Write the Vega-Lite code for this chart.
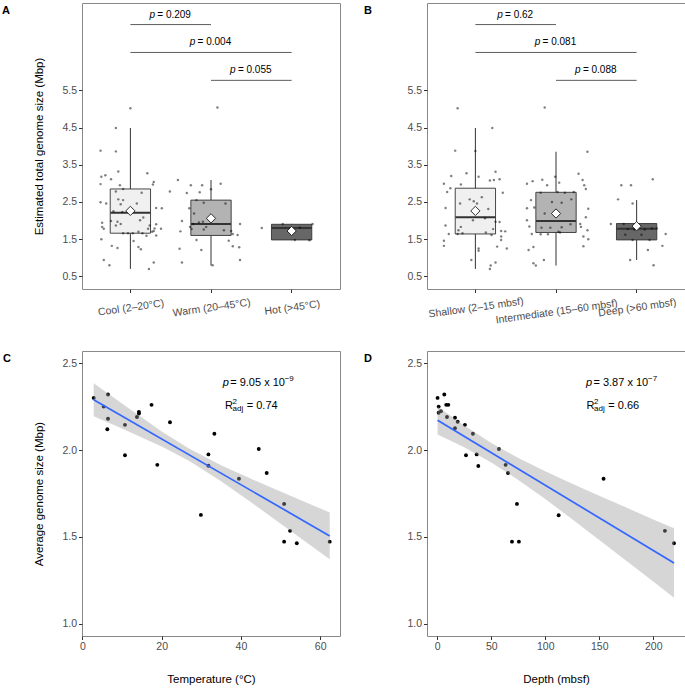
{
"$schema": "https://vega.github.io/schema/vega-lite/v6.json",
"background": "white",
"padding": {"left": 1, "top": 2, "right": 0, "bottom": 0},
"columns": 2,
"spacing": {"row": 62, "column": 87},
"bounds": "flush",
"datasets": {
"boxA": [
{"g":"Cool (2–20°C)","lo":0.70,"q1":1.66,"med":2.21,"q3":2.85,"hi":4.49,"mean":2.26},
{"g":"Warm (20–45°C)","lo":0.79,"q1":1.60,"med":1.91,"q3":2.55,"hi":3.09,"mean":2.06},
{"g":"Hot (>45°C)","lo":1.47,"q1":1.48,"med":1.80,"q3":1.90,"hi":1.91,"mean":1.72}],
"brA": [
{"from":"Cool (2–20°C)","to":"Warm (20–45°C)","y":7.27,"lab":"= 0.209","span":1},
{"from":"Cool (2–20°C)","to":"Hot (>45°C)","y":6.52,"lab":"= 0.004","span":2},
{"from":"Warm (20–45°C)","to":"Hot (>45°C)","y":5.77,"lab":"= 0.055","span":1}],
"jitA": [
{"g":"Cool (2–20°C)","j":0.00,"v":5.02},{"g":"Cool (2–20°C)","j":-0.18,"v":4.49},{"g":"Cool (2–20°C)","j":-0.37,"v":3.88},{"g":"Cool (2–20°C)","j":-0.18,"v":3.86},{"g":"Cool (2–20°C)","j":-0.15,"v":3.32},{"g":"Cool (2–20°C)","j":-0.36,"v":3.18},{"g":"Cool (2–20°C)","j":-0.31,"v":3.22},{"g":"Cool (2–20°C)","j":-0.24,"v":3.11},{"g":"Cool (2–20°C)","j":-0.37,"v":2.98},{"g":"Cool (2–20°C)","j":-0.13,"v":2.95},{"g":"Cool (2–20°C)","j":0.21,"v":3.27},{"g":"Cool (2–20°C)","j":0.29,"v":3.04},{"g":"Cool (2–20°C)","j":0.28,"v":2.97},{"g":"Cool (2–20°C)","j":-0.09,"v":2.85},{"g":"Cool (2–20°C)","j":-0.18,"v":2.78},{"g":"Cool (2–20°C)","j":-0.37,"v":2.49},{"g":"Cool (2–20°C)","j":-0.30,"v":2.46},{"g":"Cool (2–20°C)","j":-0.15,"v":2.57},{"g":"Cool (2–20°C)","j":-0.12,"v":2.44},{"g":"Cool (2–20°C)","j":0.39,"v":2.33},{"g":"Cool (2–20°C)","j":0.32,"v":2.34},{"g":"Cool (2–20°C)","j":-0.21,"v":2.25},{"g":"Cool (2–20°C)","j":-0.10,"v":2.23},{"g":"Cool (2–20°C)","j":-0.35,"v":1.94},{"g":"Cool (2–20°C)","j":-0.24,"v":1.99},{"g":"Cool (2–20°C)","j":-0.35,"v":1.83},{"g":"Cool (2–20°C)","j":-0.33,"v":1.78},{"g":"Cool (2–20°C)","j":0.32,"v":1.90},{"g":"Cool (2–20°C)","j":0.30,"v":1.79},{"g":"Cool (2–20°C)","j":0.38,"v":1.78},{"g":"Cool (2–20°C)","j":0.24,"v":1.87},{"g":"Cool (2–20°C)","j":-0.09,"v":1.66},{"g":"Cool (2–20°C)","j":0.15,"v":1.66},{"g":"Cool (2–20°C)","j":0.20,"v":1.59},{"g":"Cool (2–20°C)","j":0.32,"v":1.60},{"g":"Cool (2–20°C)","j":-0.36,"v":1.50},{"g":"Cool (2–20°C)","j":0.04,"v":1.45},{"g":"Cool (2–20°C)","j":-0.23,"v":1.32},{"g":"Cool (2–20°C)","j":-0.16,"v":1.26},{"g":"Cool (2–20°C)","j":0.10,"v":1.29},{"g":"Cool (2–20°C)","j":0.13,"v":1.23},{"g":"Cool (2–20°C)","j":-0.33,"v":0.94},{"g":"Cool (2–20°C)","j":-0.26,"v":0.80},{"g":"Cool (2–20°C)","j":0.29,"v":0.87},{"g":"Cool (2–20°C)","j":0.23,"v":0.70},{"g":"Cool (2–20°C)","j":-0.09,"v":2.55},{"g":"Cool (2–20°C)","j":0.14,"v":2.75},{"g":"Cool (2–20°C)","j":0.08,"v":2.46},{"g":"Cool (2–20°C)","j":0.16,"v":2.08},{"g":"Cool (2–20°C)","j":0.12,"v":2.01},{"g":"Cool (2–20°C)","j":-0.16,"v":1.97},{"g":"Cool (2–20°C)","j":-0.18,"v":1.87},{"g":"Cool (2–20°C)","j":-0.12,"v":1.91},{"g":"Cool (2–20°C)","j":-0.03,"v":1.66},{"g":"Cool (2–20°C)","j":0.03,"v":1.66},{"g":"Cool (2–20°C)","j":0.10,"v":1.70},{"g":"Cool (2–20°C)","j":0.22,"v":1.78},{"g":"Cool (2–20°C)","j":0.29,"v":1.72},{"g":"Cool (2–20°C)","j":0.27,"v":1.70},
{"g":"Warm (20–45°C)","j":0.08,"v":5.04},{"g":"Warm (20–45°C)","j":-0.41,"v":3.09},{"g":"Warm (20–45°C)","j":-0.25,"v":2.95},{"g":"Warm (20–45°C)","j":-0.11,"v":2.95},{"g":"Warm (20–45°C)","j":0.12,"v":2.99},{"g":"Warm (20–45°C)","j":-0.51,"v":2.78},{"g":"Warm (20–45°C)","j":-0.30,"v":2.74},{"g":"Warm (20–45°C)","j":-0.14,"v":2.76},{"g":"Warm (20–45°C)","j":0.00,"v":2.84},{"g":"Warm (20–45°C)","j":-0.18,"v":2.55},{"g":"Warm (20–45°C)","j":-0.09,"v":2.48},{"g":"Warm (20–45°C)","j":-0.27,"v":2.33},{"g":"Warm (20–45°C)","j":-0.21,"v":2.19},{"g":"Warm (20–45°C)","j":-0.36,"v":1.99},{"g":"Warm (20–45°C)","j":-0.22,"v":1.91},{"g":"Warm (20–45°C)","j":-0.38,"v":1.71},{"g":"Warm (20–45°C)","j":-0.24,"v":1.77},{"g":"Warm (20–45°C)","j":-0.09,"v":1.76},{"g":"Warm (20–45°C)","j":-0.06,"v":1.83},{"g":"Warm (20–45°C)","j":-0.15,"v":1.95},{"g":"Warm (20–45°C)","j":0.36,"v":1.91},{"g":"Warm (20–45°C)","j":0.27,"v":1.64},{"g":"Warm (20–45°C)","j":0.33,"v":1.61},{"g":"Warm (20–45°C)","j":-0.18,"v":1.48},{"g":"Warm (20–45°C)","j":0.22,"v":1.46},{"g":"Warm (20–45°C)","j":0.27,"v":1.31},{"g":"Warm (20–45°C)","j":0.35,"v":1.28},{"g":"Warm (20–45°C)","j":-0.39,"v":1.24},{"g":"Warm (20–45°C)","j":-0.12,"v":1.21},{"g":"Warm (20–45°C)","j":-0.36,"v":0.87},{"g":"Warm (20–45°C)","j":0.02,"v":0.80},{"g":"Warm (20–45°C)","j":0.36,"v":0.94},{"g":"Warm (20–45°C)","j":0.18,"v":2.46},{"g":"Warm (20–45°C)","j":-0.10,"v":1.97},{"g":"Warm (20–45°C)","j":0.16,"v":1.74},{"g":"Warm (20–45°C)","j":0.25,"v":1.72},{"g":"Warm (20–45°C)","j":-0.26,"v":1.83},
{"g":"Hot (>45°C)","j":-0.37,"v":1.80},{"g":"Hot (>45°C)","j":-0.11,"v":1.91},{"g":"Hot (>45°C)","j":0.26,"v":1.91},{"g":"Hot (>45°C)","j":0.22,"v":1.47},{"g":"Hot (>45°C)","j":0.04,"v":1.48},{"g":"Hot (>45°C)","j":0.10,"v":1.81}],
"boxB": [
{"g":"Shallow (2–15 mbsf)","lo":0.70,"q1":1.64,"med":2.09,"q3":2.87,"hi":4.49,"mean":2.26},
{"g":"Intermediate (15–60 mbsf)","lo":0.79,"q1":1.68,"med":1.99,"q3":2.76,"hi":3.85,"mean":2.19},
{"g":"Deep (>60 mbsf)","lo":0.94,"q1":1.48,"med":1.78,"q3":1.92,"hi":2.55,"mean":1.85}],
"brB": [
{"from":"Shallow (2–15 mbsf)","to":"Intermediate (15–60 mbsf)","y":7.27,"lab":"= 0.62","span":1},
{"from":"Shallow (2–15 mbsf)","to":"Deep (>60 mbsf)","y":6.52,"lab":"= 0.081","span":2},
{"from":"Intermediate (15–60 mbsf)","to":"Deep (>60 mbsf)","y":5.77,"lab":"= 0.088","span":1}],
"jitB": [
{"g":"Shallow (2–15 mbsf)","j":-0.22,"v":5.02},{"g":"Shallow (2–15 mbsf)","j":0.21,"v":4.49},{"g":"Shallow (2–15 mbsf)","j":-0.25,"v":3.88},{"g":"Shallow (2–15 mbsf)","j":0.00,"v":3.87},{"g":"Shallow (2–15 mbsf)","j":-0.30,"v":3.20},{"g":"Shallow (2–15 mbsf)","j":-0.11,"v":3.27},{"g":"Shallow (2–15 mbsf)","j":0.04,"v":3.18},{"g":"Shallow (2–15 mbsf)","j":0.25,"v":3.31},{"g":"Shallow (2–15 mbsf)","j":0.18,"v":3.08},{"g":"Shallow (2–15 mbsf)","j":0.23,"v":3.09},{"g":"Shallow (2–15 mbsf)","j":0.30,"v":3.11},{"g":"Shallow (2–15 mbsf)","j":-0.39,"v":2.99},{"g":"Shallow (2–15 mbsf)","j":-0.31,"v":2.87},{"g":"Shallow (2–15 mbsf)","j":-0.35,"v":2.77},{"g":"Shallow (2–15 mbsf)","j":-0.18,"v":2.97},{"g":"Shallow (2–15 mbsf)","j":0.34,"v":2.75},{"g":"Shallow (2–15 mbsf)","j":-0.37,"v":2.34},{"g":"Shallow (2–15 mbsf)","j":-0.07,"v":2.57},{"g":"Shallow (2–15 mbsf)","j":-0.02,"v":2.52},{"g":"Shallow (2–15 mbsf)","j":-0.19,"v":2.46},{"g":"Shallow (2–15 mbsf)","j":0.02,"v":2.46},{"g":"Shallow (2–15 mbsf)","j":0.16,"v":2.31},{"g":"Shallow (2–15 mbsf)","j":-0.03,"v":2.01},{"g":"Shallow (2–15 mbsf)","j":0.12,"v":2.06},{"g":"Shallow (2–15 mbsf)","j":-0.37,"v":1.87},{"g":"Shallow (2–15 mbsf)","j":-0.33,"v":1.64},{"g":"Shallow (2–15 mbsf)","j":-0.22,"v":1.64},{"g":"Shallow (2–15 mbsf)","j":-0.16,"v":1.66},{"g":"Shallow (2–15 mbsf)","j":0.13,"v":1.68},{"g":"Shallow (2–15 mbsf)","j":0.25,"v":1.97},{"g":"Shallow (2–15 mbsf)","j":0.22,"v":1.77},{"g":"Shallow (2–15 mbsf)","j":0.30,"v":1.96},{"g":"Shallow (2–15 mbsf)","j":0.32,"v":1.72},{"g":"Shallow (2–15 mbsf)","j":0.37,"v":1.71},{"g":"Shallow (2–15 mbsf)","j":0.20,"v":1.61},{"g":"Shallow (2–15 mbsf)","j":0.32,"v":1.57},{"g":"Shallow (2–15 mbsf)","j":0.32,"v":1.48},{"g":"Shallow (2–15 mbsf)","j":-0.39,"v":1.46},{"g":"Shallow (2–15 mbsf)","j":-0.39,"v":1.32},{"g":"Shallow (2–15 mbsf)","j":0.04,"v":1.25},{"g":"Shallow (2–15 mbsf)","j":0.04,"v":1.19},{"g":"Shallow (2–15 mbsf)","j":0.27,"v":1.30},{"g":"Shallow (2–15 mbsf)","j":0.39,"v":1.25},{"g":"Shallow (2–15 mbsf)","j":-0.05,"v":0.94},{"g":"Shallow (2–15 mbsf)","j":0.25,"v":0.87},{"g":"Shallow (2–15 mbsf)","j":0.19,"v":0.79},{"g":"Shallow (2–15 mbsf)","j":0.18,"v":0.70},{"g":"Shallow (2–15 mbsf)","j":-0.18,"v":1.83},{"g":"Shallow (2–15 mbsf)","j":-0.21,"v":1.74},{"g":"Shallow (2–15 mbsf)","j":0.00,"v":2.33},{"g":"Shallow (2–15 mbsf)","j":0.08,"v":2.63},
{"g":"Intermediate (15–60 mbsf)","j":-0.14,"v":5.04},{"g":"Intermediate (15–60 mbsf)","j":0.39,"v":3.85},{"g":"Intermediate (15–60 mbsf)","j":0.28,"v":3.26},{"g":"Intermediate (15–60 mbsf)","j":-0.01,"v":3.18},{"g":"Intermediate (15–60 mbsf)","j":-0.36,"v":2.99},{"g":"Intermediate (15–60 mbsf)","j":-0.29,"v":3.06},{"g":"Intermediate (15–60 mbsf)","j":-0.17,"v":3.10},{"g":"Intermediate (15–60 mbsf)","j":-0.11,"v":2.95},{"g":"Intermediate (15–60 mbsf)","j":0.04,"v":3.02},{"g":"Intermediate (15–60 mbsf)","j":0.35,"v":2.95},{"g":"Intermediate (15–60 mbsf)","j":0.37,"v":2.85},{"g":"Intermediate (15–60 mbsf)","j":0.33,"v":3.09},{"g":"Intermediate (15–60 mbsf)","j":-0.19,"v":2.75},{"g":"Intermediate (15–60 mbsf)","j":0.02,"v":2.77},{"g":"Intermediate (15–60 mbsf)","j":0.22,"v":2.77},{"g":"Intermediate (15–60 mbsf)","j":0.11,"v":2.75},{"g":"Intermediate (15–60 mbsf)","j":-0.31,"v":2.55},{"g":"Intermediate (15–60 mbsf)","j":0.19,"v":2.57},{"g":"Intermediate (15–60 mbsf)","j":-0.36,"v":2.33},{"g":"Intermediate (15–60 mbsf)","j":0.40,"v":2.32},{"g":"Intermediate (15–60 mbsf)","j":-0.27,"v":2.35},{"g":"Intermediate (15–60 mbsf)","j":-0.05,"v":2.50},{"g":"Intermediate (15–60 mbsf)","j":0.07,"v":2.48},{"g":"Intermediate (15–60 mbsf)","j":-0.14,"v":2.19},{"g":"Intermediate (15–60 mbsf)","j":0.37,"v":2.09},{"g":"Intermediate (15–60 mbsf)","j":-0.36,"v":2.01},{"g":"Intermediate (15–60 mbsf)","j":-0.33,"v":1.84},{"g":"Intermediate (15–60 mbsf)","j":-0.18,"v":1.81},{"g":"Intermediate (15–60 mbsf)","j":-0.07,"v":1.81},{"g":"Intermediate (15–60 mbsf)","j":0.07,"v":1.82},{"g":"Intermediate (15–60 mbsf)","j":0.18,"v":1.90},{"g":"Intermediate (15–60 mbsf)","j":0.30,"v":1.91},{"g":"Intermediate (15–60 mbsf)","j":0.31,"v":1.83},{"g":"Intermediate (15–60 mbsf)","j":-0.30,"v":1.64},{"g":"Intermediate (15–60 mbsf)","j":-0.19,"v":1.63},{"g":"Intermediate (15–60 mbsf)","j":-0.10,"v":1.63},{"g":"Intermediate (15–60 mbsf)","j":0.05,"v":1.68},{"g":"Intermediate (15–60 mbsf)","j":0.39,"v":1.74},{"g":"Intermediate (15–60 mbsf)","j":0.34,"v":1.57},{"g":"Intermediate (15–60 mbsf)","j":0.40,"v":1.50},{"g":"Intermediate (15–60 mbsf)","j":0.34,"v":1.31},{"g":"Intermediate (15–60 mbsf)","j":-0.34,"v":1.21},{"g":"Intermediate (15–60 mbsf)","j":-0.28,"v":1.29},{"g":"Intermediate (15–60 mbsf)","j":-0.15,"v":0.94},{"g":"Intermediate (15–60 mbsf)","j":-0.28,"v":0.85},{"g":"Intermediate (15–60 mbsf)","j":-0.25,"v":0.79},{"g":"Intermediate (15–60 mbsf)","j":0.03,"v":1.70},
{"g":"Deep (>60 mbsf)","j":-0.19,"v":2.95},{"g":"Deep (>60 mbsf)","j":-0.07,"v":2.95},{"g":"Deep (>60 mbsf)","j":0.20,"v":3.11},{"g":"Deep (>60 mbsf)","j":-0.23,"v":2.57},{"g":"Deep (>60 mbsf)","j":-0.05,"v":2.46},{"g":"Deep (>60 mbsf)","j":-0.32,"v":1.91},{"g":"Deep (>60 mbsf)","j":-0.16,"v":1.91},{"g":"Deep (>60 mbsf)","j":-0.11,"v":1.77},{"g":"Deep (>60 mbsf)","j":-0.03,"v":1.76},{"g":"Deep (>60 mbsf)","j":0.10,"v":1.76},{"g":"Deep (>60 mbsf)","j":0.19,"v":1.79},{"g":"Deep (>60 mbsf)","j":0.25,"v":1.79},{"g":"Deep (>60 mbsf)","j":-0.14,"v":1.62},{"g":"Deep (>60 mbsf)","j":0.06,"v":1.62},{"g":"Deep (>60 mbsf)","j":0.36,"v":1.64},{"g":"Deep (>60 mbsf)","j":-0.05,"v":1.48},{"g":"Deep (>60 mbsf)","j":0.16,"v":1.48},{"g":"Deep (>60 mbsf)","j":0.32,"v":1.32},{"g":"Deep (>60 mbsf)","j":0.14,"v":1.21},{"g":"Deep (>60 mbsf)","j":-0.08,"v":0.94},{"g":"Deep (>60 mbsf)","j":0.21,"v":0.80}],
"ptsC": [
{"t":2.85,"s":2.30},{"t":5.37,"s":2.25},{"t":6.46,"s":2.32},{"t":6.46,"s":2.18},{"t":6.29,"s":2.12},{"t":10.74,"s":2.145},{"t":10.74,"s":1.97},{"t":13.76,"s":2.19},{"t":14.26,"s":2.22},{"t":14.26,"s":2.21},{"t":17.45,"s":2.26},{"t":18.9,"s":1.915},{"t":22.1,"s":2.16},{"t":29.9,"s":1.627},{"t":31.8,"s":1.975},{"t":31.8,"s":1.91},{"t":33.3,"s":2.094},{"t":39.5,"s":1.835},{"t":44.5,"s":2.006},{"t":46.5,"s":1.868},{"t":50.9,"s":1.69},{"t":50.9,"s":1.473},{"t":52.4,"s":1.535},{"t":54.1,"s":1.464},{"t":62.4,"s":1.473}],
"lineC": [{"t":2.85,"s":2.29},{"t":62.4,"s":1.506}],
"bandC": [
{"t":2.85,"lo":2.195,"hi":2.385},{"t":10,"lo":2.124,"hi":2.268},{"t":20,"lo":2.02,"hi":2.107},{"t":27,"lo":1.937,"hi":2.007},{"t":35,"lo":1.821,"hi":1.913},{"t":45,"lo":1.66,"hi":1.81},{"t":55,"lo":1.494,"hi":1.712},{"t":62.4,"lo":1.371,"hi":1.641}],
"ptsD": [
{"d":0.3,"s":2.30},{"d":1.3,"s":2.25},{"d":1.3,"s":2.215},{"d":3.4,"s":2.224},{"d":6.5,"s":2.32},{"d":8.3,"s":2.26},{"d":10.2,"s":2.26},{"d":9,"s":2.19},{"d":16.4,"s":2.186},{"d":18.9,"s":2.163},{"d":16.4,"s":2.126},{"d":25.6,"s":2.145},{"d":33,"s":2.094},{"d":26.6,"s":1.97},{"d":36.5,"s":1.975},{"d":38,"s":1.908},{"d":57.1,"s":2.006},{"d":63.3,"s":1.915},{"d":65.5,"s":1.868},{"d":73.8,"s":1.69},{"d":69.2,"s":1.473},{"d":75.6,"s":1.473},{"d":112.4,"s":1.625},{"d":154,"s":1.835},{"d":210.8,"s":1.535},{"d":219.2,"s":1.464}],
"lineD": [{"d":0.3,"s":2.172},{"d":219.2,"s":1.35}],
"bandD": [
{"d":0.3,"lo":2.09,"hi":2.25},{"d":25,"lo":2.016,"hi":2.142},{"d":50,"lo":1.929,"hi":2.041},{"d":75,"lo":1.828,"hi":1.954},{"d":100,"lo":1.718,"hi":1.878},{"d":125,"lo":1.602,"hi":1.806},{"d":150,"lo":1.483,"hi":1.737},{"d":175,"lo":1.363,"hi":1.669},{"d":200,"lo":1.243,"hi":1.601},{"d":219.2,"lo":1.15,"hi":1.55}]
},
"concat": [
{
"width": 258, "height": 286,
"title": {"text": "A", "dx": -80},
"resolve": {"scale": {"xOffset": "independent"}},
"layer": [
{"data": {"name": "boxA"}, "mark": {"type": "rule", "color": "#333333", "strokeWidth": 1},
 "encoding": {
  "x": {"field": "g", "type": "nominal", "scale": {"type": "band", "domain": ["Cool (2–20°C)","Warm (20–45°C)","Hot (>45°C)"], "paddingInner": 0.5, "paddingOuter": 0.35},
        "axis": {"title": null, "labelAngle": -8, "labelAlign": "center", "labelBaseline": "top", "labelPadding": 10, "labelOverlap": false, "labelLimit": 300}},
  "y": {"field": "lo", "type": "quantitative", "scale": {"domain": [0.16, 7.85], "nice": false, "zero": false},
        "axis": {"values": [0.5,1.5,2.5,3.5,4.5,5.5], "format": ".1f", "title": "Estimated total genome size (Mbp)", "titlePadding": 17}},
  "y2": {"field": "hi"}}},
{"data": {"name": "boxA"}, "mark": {"type": "bar", "stroke": "#333333", "strokeWidth": 0.9, "width": {"band": 1}},
 "encoding": {
  "x": {"field": "g", "type": "nominal", "scale": {"type": "band", "domain": ["Cool (2–20°C)","Warm (20–45°C)","Hot (>45°C)"], "paddingInner": 0.5, "paddingOuter": 0.35}},
  "y": {"field": "q1", "type": "quantitative", "scale": {"domain": [0.16, 7.85], "nice": false, "zero": false}},
  "y2": {"field": "q3"},
  "fill": {"field": "g", "type": "nominal", "scale": {"domain": ["Cool (2–20°C)","Warm (20–45°C)","Hot (>45°C)"], "range": ["#f0f0f0","#b3b3b3","#676767"]}, "legend": null}}},
{"data": {"name": "boxA"}, "mark": {"type": "tick", "color": "#333333", "thickness": 2, "size": 40, "opacity": 1},
 "encoding": {
  "x": {"field": "g", "type": "nominal", "scale": {"type": "band", "domain": ["Cool (2–20°C)","Warm (20–45°C)","Hot (>45°C)"], "paddingInner": 0.5, "paddingOuter": 0.35}},
  "y": {"field": "med", "type": "quantitative", "scale": {"domain": [0.16, 7.85], "nice": false, "zero": false}}}},
{"data": {"name": "jitA"}, "mark": {"type": "circle", "size": 6, "color": "#000000", "opacity": 0.5},
 "encoding": {
  "x": {"field": "g", "type": "nominal", "scale": {"type": "band", "domain": ["Cool (2–20°C)","Warm (20–45°C)","Hot (>45°C)"], "paddingInner": 0.5, "paddingOuter": 0.35}},
  "xOffset": {"field": "j", "type": "quantitative", "scale": {"domain": [-1, 1], "range": [-60.47, 100.78]}},
  "y": {"field": "v", "type": "quantitative", "scale": {"domain": [0.16, 7.85], "nice": false, "zero": false}}}},
{"data": {"name": "boxA"}, "mark": {"type": "point", "shape": "diamond", "filled": true, "fill": "white", "stroke": "black", "strokeWidth": 0.8, "size": 85, "opacity": 1},
 "encoding": {
  "x": {"field": "g", "type": "nominal", "scale": {"type": "band", "domain": ["Cool (2–20°C)","Warm (20–45°C)","Hot (>45°C)"], "paddingInner": 0.5, "paddingOuter": 0.35}},
  "y": {"field": "mean", "type": "quantitative", "scale": {"domain": [0.16, 7.85], "nice": false, "zero": false}}}},
{"data": {"name": "brA"}, "mark": {"type": "rule", "color": "#333333", "strokeWidth": 0.8},
 "encoding": {
  "x": {"field": "from", "type": "nominal", "scale": {"type": "band", "domain": ["Cool (2–20°C)","Warm (20–45°C)","Hot (>45°C)"], "paddingInner": 0.5, "paddingOuter": 0.35}},
  "x2": {"field": "to"},
  "y": {"field": "y", "type": "quantitative", "scale": {"domain": [0.16, 7.85], "nice": false, "zero": false}}}},
{"data": {"name": "brA"}, "transform": [{"filter": "datum.span == 1"}], "mark": {"type": "text", "fontSize": 10, "align": "center", "baseline": "alphabetic", "dx": 3.4, "dy": -7, "color": "black"},
 "encoding": {
  "x": {"field": "from", "type": "nominal", "bandPosition": 1.5, "scale": {"type": "band", "domain": ["Cool (2–20°C)","Warm (20–45°C)","Hot (>45°C)"], "paddingInner": 0.5, "paddingOuter": 0.35}},
  "y": {"field": "y", "type": "quantitative", "scale": {"domain": [0.16, 7.85], "nice": false, "zero": false}},
  "text": {"field": "lab"}}},
{"data": {"name": "brA"}, "transform": [{"filter": "datum.span == 2"}], "mark": {"type": "text", "fontSize": 10, "align": "center", "baseline": "alphabetic", "dx": 3.4, "dy": -7, "color": "black"},
 "encoding": {
  "x": {"field": "from", "type": "nominal", "bandPosition": 2.5, "scale": {"type": "band", "domain": ["Cool (2–20°C)","Warm (20–45°C)","Hot (>45°C)"], "paddingInner": 0.5, "paddingOuter": 0.35}},
  "y": {"field": "y", "type": "quantitative", "scale": {"domain": [0.16, 7.85], "nice": false, "zero": false}},
  "text": {"field": "lab"}}},
{"data": {"name": "brA"}, "transform": [{"filter": "datum.span == 1"}], "mark": {"type": "text", "text": "p", "fontStyle": "italic", "fontSize": 10, "align": "left", "baseline": "alphabetic", "dx": -21.2, "dy": -7, "color": "black"},
 "encoding": {
  "x": {"field": "from", "type": "nominal", "bandPosition": 1.5, "scale": {"type": "band", "domain": ["Cool (2–20°C)","Warm (20–45°C)","Hot (>45°C)"], "paddingInner": 0.5, "paddingOuter": 0.35}},
  "y": {"field": "y", "type": "quantitative", "scale": {"domain": [0.16, 7.85], "nice": false, "zero": false}}}},
{"data": {"name": "brA"}, "transform": [{"filter": "datum.span == 2"}], "mark": {"type": "text", "text": "p", "fontStyle": "italic", "fontSize": 10, "align": "left", "baseline": "alphabetic", "dx": -21.2, "dy": -7, "color": "black"},
 "encoding": {
  "x": {"field": "from", "type": "nominal", "bandPosition": 2.5, "scale": {"type": "band", "domain": ["Cool (2–20°C)","Warm (20–45°C)","Hot (>45°C)"], "paddingInner": 0.5, "paddingOuter": 0.35}},
  "y": {"field": "y", "type": "quantitative", "scale": {"domain": [0.16, 7.85], "nice": false, "zero": false}}}}
]
},
{
"width": 258, "height": 286,
"title": {"text": "B", "dx": -63},
"resolve": {"scale": {"xOffset": "independent"}},
"layer": [
{"data": {"name": "boxB"}, "mark": {"type": "rule", "color": "#333333", "strokeWidth": 1},
 "encoding": {
  "x": {"field": "g", "type": "nominal", "scale": {"type": "band", "domain": ["Shallow (2–15 mbsf)","Intermediate (15–60 mbsf)","Deep (>60 mbsf)"], "paddingInner": 0.5, "paddingOuter": 0.35},
        "axis": {"title": null, "labelAngle": -8, "labelAlign": "center", "labelBaseline": "top", "labelPadding": {"condition": {"test": "datum.value === 'Intermediate (15–60 mbsf)'", "value": 14}, "value": 10}, "labelOverlap": false, "labelLimit": 300}},
  "y": {"field": "lo", "type": "quantitative", "scale": {"domain": [0.16, 7.85], "nice": false, "zero": false},
        "axis": {"values": [0.5,1.5,2.5,3.5,4.5,5.5], "format": ".1f", "title": null}},
  "y2": {"field": "hi"}}},
{"data": {"name": "boxB"}, "mark": {"type": "bar", "stroke": "#333333", "strokeWidth": 0.9, "width": {"band": 1}},
 "encoding": {
  "x": {"field": "g", "type": "nominal", "scale": {"type": "band", "domain": ["Shallow (2–15 mbsf)","Intermediate (15–60 mbsf)","Deep (>60 mbsf)"], "paddingInner": 0.5, "paddingOuter": 0.35}},
  "y": {"field": "q1", "type": "quantitative", "scale": {"domain": [0.16, 7.85], "nice": false, "zero": false}},
  "y2": {"field": "q3"},
  "fill": {"field": "g", "type": "nominal", "scale": {"domain": ["Shallow (2–15 mbsf)","Intermediate (15–60 mbsf)","Deep (>60 mbsf)"], "range": ["#f0f0f0","#b0b0b0","#666666"]}, "legend": null}}},
{"data": {"name": "boxB"}, "mark": {"type": "tick", "color": "#333333", "thickness": 2, "size": 40, "opacity": 1},
 "encoding": {
  "x": {"field": "g", "type": "nominal", "scale": {"type": "band", "domain": ["Shallow (2–15 mbsf)","Intermediate (15–60 mbsf)","Deep (>60 mbsf)"], "paddingInner": 0.5, "paddingOuter": 0.35}},
  "y": {"field": "med", "type": "quantitative", "scale": {"domain": [0.16, 7.85], "nice": false, "zero": false}}}},
{"data": {"name": "jitB"}, "mark": {"type": "circle", "size": 6, "color": "#000000", "opacity": 0.5},
 "encoding": {
  "x": {"field": "g", "type": "nominal", "scale": {"type": "band", "domain": ["Shallow (2–15 mbsf)","Intermediate (15–60 mbsf)","Deep (>60 mbsf)"], "paddingInner": 0.5, "paddingOuter": 0.35}},
  "xOffset": {"field": "j", "type": "quantitative", "scale": {"domain": [-1, 1], "range": [-60.47, 100.78]}},
  "y": {"field": "v", "type": "quantitative", "scale": {"domain": [0.16, 7.85], "nice": false, "zero": false}}}},
{"data": {"name": "boxB"}, "mark": {"type": "point", "shape": "diamond", "filled": true, "fill": "white", "stroke": "black", "strokeWidth": 0.8, "size": 85, "opacity": 1},
 "encoding": {
  "x": {"field": "g", "type": "nominal", "scale": {"type": "band", "domain": ["Shallow (2–15 mbsf)","Intermediate (15–60 mbsf)","Deep (>60 mbsf)"], "paddingInner": 0.5, "paddingOuter": 0.35}},
  "y": {"field": "mean", "type": "quantitative", "scale": {"domain": [0.16, 7.85], "nice": false, "zero": false}}}},
{"data": {"name": "brB"}, "mark": {"type": "rule", "color": "#333333", "strokeWidth": 0.8},
 "encoding": {
  "x": {"field": "from", "type": "nominal", "scale": {"type": "band", "domain": ["Shallow (2–15 mbsf)","Intermediate (15–60 mbsf)","Deep (>60 mbsf)"], "paddingInner": 0.5, "paddingOuter": 0.35}},
  "x2": {"field": "to"},
  "y": {"field": "y", "type": "quantitative", "scale": {"domain": [0.16, 7.85], "nice": false, "zero": false}}}},
{"data": {"name": "brB"}, "transform": [{"filter": "datum.span == 1"}], "mark": {"type": "text", "fontSize": 10, "align": "center", "baseline": "alphabetic", "dx": 3.4, "dy": -7, "color": "black"},
 "encoding": {
  "x": {"field": "from", "type": "nominal", "bandPosition": 1.5, "scale": {"type": "band", "domain": ["Shallow (2–15 mbsf)","Intermediate (15–60 mbsf)","Deep (>60 mbsf)"], "paddingInner": 0.5, "paddingOuter": 0.35}},
  "y": {"field": "y", "type": "quantitative", "scale": {"domain": [0.16, 7.85], "nice": false, "zero": false}},
  "text": {"field": "lab"}}},
{"data": {"name": "brB"}, "transform": [{"filter": "datum.span == 2"}], "mark": {"type": "text", "fontSize": 10, "align": "center", "baseline": "alphabetic", "dx": 3.4, "dy": -7, "color": "black"},
 "encoding": {
  "x": {"field": "from", "type": "nominal", "bandPosition": 2.5, "scale": {"type": "band", "domain": ["Shallow (2–15 mbsf)","Intermediate (15–60 mbsf)","Deep (>60 mbsf)"], "paddingInner": 0.5, "paddingOuter": 0.35}},
  "y": {"field": "y", "type": "quantitative", "scale": {"domain": [0.16, 7.85], "nice": false, "zero": false}},
  "text": {"field": "lab"}}},
{"data": {"name": "brB"}, "transform": [{"filter": "datum.span == 1 && length(datum.lab) == 7"}], "mark": {"type": "text", "text": "p", "fontStyle": "italic", "fontSize": 10, "align": "left", "baseline": "alphabetic", "dx": -21.2, "dy": -7, "color": "black"},
 "encoding": {
  "x": {"field": "from", "type": "nominal", "bandPosition": 1.5, "scale": {"type": "band", "domain": ["Shallow (2–15 mbsf)","Intermediate (15–60 mbsf)","Deep (>60 mbsf)"], "paddingInner": 0.5, "paddingOuter": 0.35}},
  "y": {"field": "y", "type": "quantitative", "scale": {"domain": [0.16, 7.85], "nice": false, "zero": false}}}},
{"data": {"name": "brB"}, "transform": [{"filter": "datum.span == 1 && length(datum.lab) == 6"}], "mark": {"type": "text", "text": "p", "fontStyle": "italic", "fontSize": 10, "align": "left", "baseline": "alphabetic", "dx": -18.5, "dy": -7, "color": "black"},
 "encoding": {
  "x": {"field": "from", "type": "nominal", "bandPosition": 1.5, "scale": {"type": "band", "domain": ["Shallow (2–15 mbsf)","Intermediate (15–60 mbsf)","Deep (>60 mbsf)"], "paddingInner": 0.5, "paddingOuter": 0.35}},
  "y": {"field": "y", "type": "quantitative", "scale": {"domain": [0.16, 7.85], "nice": false, "zero": false}}}},
{"data": {"name": "brB"}, "transform": [{"filter": "datum.span == 2"}], "mark": {"type": "text", "text": "p", "fontStyle": "italic", "fontSize": 10, "align": "left", "baseline": "alphabetic", "dx": -21.2, "dy": -7, "color": "black"},
 "encoding": {
  "x": {"field": "from", "type": "nominal", "bandPosition": 2.5, "scale": {"type": "band", "domain": ["Shallow (2–15 mbsf)","Intermediate (15–60 mbsf)","Deep (>60 mbsf)"], "paddingInner": 0.5, "paddingOuter": 0.35}},
  "y": {"field": "y", "type": "quantitative", "scale": {"domain": [0.16, 7.85], "nice": false, "zero": false}}}}
]
},
{
"width": 258, "height": 285,
"title": {"text": "C", "dx": -79},
"layer": [
{"data": {"name": "ptsC"}, "mark": {"type": "circle", "size": 15, "color": "black", "opacity": 1},
 "encoding": {
  "x": {"field": "t", "type": "quantitative", "scale": {"domain": [-0.1, 65.0], "nice": false, "zero": false},
        "axis": {"values": [0,20,40,60], "title": "Temperature (°C)", "titlePadding": 21, "labelFlush": false}},
  "y": {"field": "s", "type": "quantitative", "scale": {"domain": [0.93, 2.57], "nice": false, "zero": false},
        "axis": {"values": [1,1.5,2,2.5], "format": ".1f", "title": "Average genome size (Mbp)", "titlePadding": 17}}}},
{"data": {"name": "bandC"}, "mark": {"type": "area", "color": "#999999", "opacity": 0.4},
 "encoding": {
  "x": {"field": "t", "type": "quantitative"},
  "y": {"field": "lo", "type": "quantitative"},
  "y2": {"field": "hi"}}},
{"data": {"name": "lineC"}, "mark": {"type": "line", "color": "#3366ff", "strokeWidth": 1.7},
 "encoding": {
  "x": {"field": "t", "type": "quantitative"},
  "y": {"field": "s", "type": "quantitative"}}},
{"data": {"values": [{"txt": "p"}]}, "mark": {"type": "text", "fontStyle": "italic", "fontSize": 11, "align": "left", "baseline": "alphabetic", "color": "black"},
 "encoding": {"x": {"datum": 35.4}, "y": {"datum": 2.368}, "text": {"field": "txt"}}},
{"data": {"values": [{"txt": "= 9.05 x 10"}]}, "mark": {"type": "text", "fontSize": 11, "align": "left", "baseline": "alphabetic", "dx": 7.5, "color": "black"},
 "encoding": {"x": {"datum": 35.4}, "y": {"datum": 2.368}, "text": {"field": "txt"}}},
{"data": {"values": [{"txt": "−9"}]}, "mark": {"type": "text", "fontSize": 8, "align": "left", "baseline": "alphabetic", "dx": 62, "dy": -5, "color": "black"},
 "encoding": {"x": {"datum": 35.4}, "y": {"datum": 2.368}, "text": {"field": "txt"}}},
{"data": {"values": [{"txt": "R"}]}, "mark": {"type": "text", "fontSize": 11, "align": "left", "baseline": "alphabetic", "color": "black"},
 "encoding": {"x": {"datum": 36.0}, "y": {"datum": 2.234}, "text": {"field": "txt"}}},
{"data": {"values": [{"txt": "2"}]}, "mark": {"type": "text", "fontSize": 8, "align": "left", "baseline": "alphabetic", "dx": 7.5, "dy": -5.3, "color": "black"},
 "encoding": {"x": {"datum": 36.0}, "y": {"datum": 2.234}, "text": {"field": "txt"}}},
{"data": {"values": [{"txt": "adj"}]}, "mark": {"type": "text", "fontSize": 8, "align": "left", "baseline": "alphabetic", "dx": 7.5, "dy": 1.5, "color": "black"},
 "encoding": {"x": {"datum": 36.0}, "y": {"datum": 2.234}, "text": {"field": "txt"}}},
{"data": {"values": [{"txt": "= 0.74"}]}, "mark": {"type": "text", "fontSize": 11, "align": "left", "baseline": "alphabetic", "dx": 21.7, "color": "black"},
 "encoding": {"x": {"datum": 36.0}, "y": {"datum": 2.234}, "text": {"field": "txt"}}}
]
},
{
"width": 258, "height": 285,
"title": {"text": "D", "dx": -63},
"layer": [
{"data": {"name": "ptsD"}, "mark": {"type": "circle", "size": 15, "color": "black", "opacity": 1},
 "encoding": {
  "x": {"field": "d", "type": "quantitative", "scale": {"domain": [-9.5, 229.4], "nice": false, "zero": false},
        "axis": {"values": [0,50,100,150,200], "title": "Depth (mbsf)", "titlePadding": 21, "labelFlush": false}},
  "y": {"field": "s", "type": "quantitative", "scale": {"domain": [0.93, 2.57], "nice": false, "zero": false},
        "axis": {"values": [1,1.5,2,2.5], "format": ".1f", "title": null}}}},
{"data": {"name": "bandD"}, "mark": {"type": "area", "color": "#999999", "opacity": 0.4},
 "encoding": {
  "x": {"field": "d", "type": "quantitative"},
  "y": {"field": "lo", "type": "quantitative"},
  "y2": {"field": "hi"}}},
{"data": {"name": "lineD"}, "mark": {"type": "line", "color": "#3366ff", "strokeWidth": 1.7},
 "encoding": {
  "x": {"field": "d", "type": "quantitative"},
  "y": {"field": "s", "type": "quantitative"}}},
{"data": {"values": [{"txt": "p"}]}, "mark": {"type": "text", "fontStyle": "italic", "fontSize": 11, "align": "left", "baseline": "alphabetic", "color": "black"},
 "encoding": {"x": {"datum": 137.7}, "y": {"datum": 2.368}, "text": {"field": "txt"}}},
{"data": {"values": [{"txt": "= 3.87 x 10"}]}, "mark": {"type": "text", "fontSize": 11, "align": "left", "baseline": "alphabetic", "dx": 7.5, "color": "black"},
 "encoding": {"x": {"datum": 137.7}, "y": {"datum": 2.368}, "text": {"field": "txt"}}},
{"data": {"values": [{"txt": "−7"}]}, "mark": {"type": "text", "fontSize": 8, "align": "left", "baseline": "alphabetic", "dx": 62, "dy": -5, "color": "black"},
 "encoding": {"x": {"datum": 137.7}, "y": {"datum": 2.368}, "text": {"field": "txt"}}},
{"data": {"values": [{"txt": "R"}]}, "mark": {"type": "text", "fontSize": 11, "align": "left", "baseline": "alphabetic", "color": "black"},
 "encoding": {"x": {"datum": 138.3}, "y": {"datum": 2.234}, "text": {"field": "txt"}}},
{"data": {"values": [{"txt": "2"}]}, "mark": {"type": "text", "fontSize": 8, "align": "left", "baseline": "alphabetic", "dx": 7.5, "dy": -5.3, "color": "black"},
 "encoding": {"x": {"datum": 138.3}, "y": {"datum": 2.234}, "text": {"field": "txt"}}},
{"data": {"values": [{"txt": "adj"}]}, "mark": {"type": "text", "fontSize": 8, "align": "left", "baseline": "alphabetic", "dx": 7.5, "dy": 1.5, "color": "black"},
 "encoding": {"x": {"datum": 138.3}, "y": {"datum": 2.234}, "text": {"field": "txt"}}},
{"data": {"values": [{"txt": "= 0.66"}]}, "mark": {"type": "text", "fontSize": 11, "align": "left", "baseline": "alphabetic", "dx": 21.7, "color": "black"},
 "encoding": {"x": {"datum": 138.3}, "y": {"datum": 2.234}, "text": {"field": "txt"}}}
]
}
],
"config": {
 "font": "Liberation Sans",
 "view": {"stroke": "#888888", "strokeWidth": 1},
 "axis": {"labelFont": "Liberation Sans", "titleFont": "Liberation Sans", "labelFontSize": 10.5, "labelColor": "#4d4d4d", "titleFontSize": 11.5, "titleFontWeight": "normal", "titleColor": "#000000", "tickColor": "#333333", "tickSize": 3.5, "tickWidth": 1, "domain": false, "grid": false, "labelPadding": 2},
 "title": {"anchor": "start", "frame": "group", "font": "Liberation Sans", "fontSize": 11, "fontWeight": "bold", "color": "#000000", "offset": 0, "baseline": "top", "dy": 17},
 "text": {"font": "Liberation Sans"}
}
}
